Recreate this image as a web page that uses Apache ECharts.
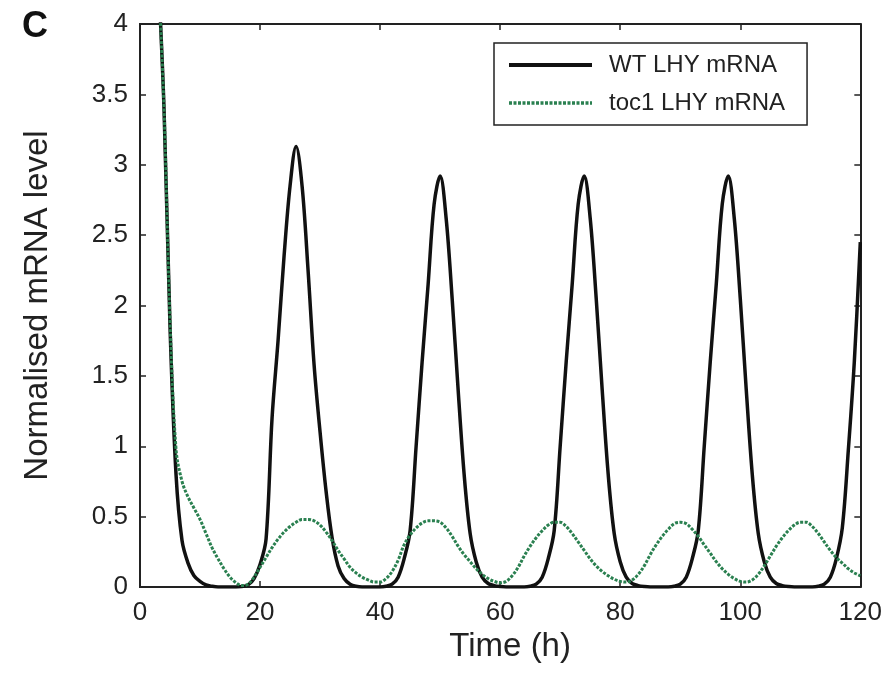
<!DOCTYPE html>
<html>
<head>
<meta charset="utf-8">
<script src="https://cdn.jsdelivr.net/npm/echarts@6/dist/echarts.min.js"></script>
<style>html,body{margin:0;padding:0;background:#fff}#c{width:885px;height:680px}</style>
</head>
<body>
<div id="c"></div>
<script>
var hours = [];
for (var h = 0; h <= 120; h++) hours.push(h);

var wtLHY = [
  8.0, 6.5, 5.3, 4.4, 3.4, 1.85, 0.8, 0.33, 0.17, 0.08,
  0.04, 0.015, 0.005, 0, 0, 0, 0, 0.003, 0.015, 0.06,
  0.16, 0.34, 1.2, 1.75, 2.35, 2.85, 3.13, 2.85, 2.25, 1.58,
  1.1, 0.68, 0.35, 0.15, 0.06, 0.02, 0.005, 0, 0, 0,
  0, 0.005, 0.02, 0.07, 0.2, 0.4, 1.0, 1.6, 2.15, 2.72,
  2.92, 2.62, 2.05, 1.4, 0.8, 0.38, 0.18, 0.07, 0.025, 0.01,
  0.003, 0, 0, 0, 0, 0.005, 0.02, 0.07, 0.2, 0.4,
  1.0, 1.6, 2.15, 2.72, 2.92, 2.62, 2.05, 1.4, 0.8, 0.38,
  0.18, 0.07, 0.025, 0.01, 0.003, 0, 0, 0, 0, 0.005,
  0.02, 0.07, 0.2, 0.4, 1.0, 1.6, 2.15, 2.72, 2.92, 2.62,
  2.05, 1.4, 0.8, 0.38, 0.18, 0.07, 0.025, 0.01, 0.003, 0,
  0, 0, 0, 0.005, 0.02, 0.07, 0.2, 0.42, 0.97, 1.6,
  2.45
];

var toc1LHY = [
  8.0, 6.5, 5.3, 4.4, 3.4, 1.9, 0.98, 0.75, 0.64, 0.56,
  0.48, 0.38, 0.28, 0.2, 0.13, 0.07, 0.03, 0.01, 0.02, 0.07,
  0.14, 0.21, 0.28, 0.34, 0.39, 0.43, 0.46, 0.48, 0.48, 0.47,
  0.44, 0.39, 0.33, 0.26, 0.20, 0.14, 0.10, 0.07, 0.05, 0.035,
  0.035, 0.06, 0.11, 0.19, 0.30, 0.37, 0.42, 0.455, 0.47, 0.47,
  0.46, 0.42, 0.36, 0.29, 0.23, 0.18, 0.13, 0.09, 0.06, 0.04,
  0.03, 0.04, 0.08, 0.14, 0.22, 0.29, 0.35, 0.40, 0.44, 0.46,
  0.46, 0.43, 0.38, 0.32, 0.26, 0.20, 0.15, 0.11, 0.08, 0.055,
  0.04, 0.035, 0.05, 0.09, 0.15, 0.23, 0.30, 0.36, 0.41, 0.45,
  0.46, 0.45, 0.41, 0.36, 0.30, 0.24, 0.18, 0.13, 0.09, 0.06,
  0.04, 0.035, 0.05, 0.09, 0.15, 0.22, 0.29, 0.35, 0.40, 0.44,
  0.46, 0.46, 0.43, 0.38, 0.32, 0.26, 0.21, 0.17, 0.13, 0.10,
  0.08
];

var xTicks = [0, 20, 40, 60, 80, 100, 120];
var yTicks = [0, 0.5, 1, 1.5, 2, 2.5, 3, 3.5, 4];

var FONT = 'Liberation Sans, Arial, Helvetica, sans-serif';

function pairs(vals) { return hours.map(function (h, i) { return [h, vals[i]]; }); }
function tick() { return {show: true, inside: true, length: 6, lineStyle: {color: '#222', width: 1.5}}; }
function line() { return {show: true, onZero: false, lineStyle: {color: '#222', width: 2}}; }
function frameX(pos) {
  return {type: 'value', position: pos, min: 0, max: 120, interval: 20,
    axisLine: line(), axisTick: tick(), splitLine: {show: false}, axisLabel: {show: false}};
}
function frameY(pos) {
  return {type: 'value', position: pos, min: 0, max: 4, interval: 0.5,
    axisLine: line(), axisTick: tick(), splitLine: {show: false}, axisLabel: {show: false}};
}

var chart = echarts.init(document.getElementById('c'), null, {renderer: 'canvas'});
chart.setOption({
  backgroundColor: '#fff',
  animation: false,
  grid: {left: 140, right: 22, top: 24, bottom: 93, show: false},
  graphic: [{type: 'text', left: 22, top: 9, style: {text: 'C', font: 'bold 36px ' + FONT, fill: '#111'}}],
  legend: {
    orient: 'vertical', left: 494, top: 43,
    padding: [10, 22, 10, 13], itemGap: 14, itemWidth: 83, itemHeight: 14,
    borderColor: '#222', borderWidth: 1.5, backgroundColor: '#fff',
    itemStyle: {opacity: 0},
    textStyle: {fontFamily: FONT, fontSize: 24, color: '#222', padding: [0, 0, 0, 12]},
    data: [
      {name: 'WT LHY mRNA', itemStyle: {opacity: 0}, lineStyle: {width: 4, color: '#111'}},
      {name: 'toc1 LHY mRNA', itemStyle: {opacity: 0}, lineStyle: {width: 3.5, color: '#2a8050', type: [3, 1.5]}}
    ]
  },
  xAxis: [{
    type: 'value', position: 'bottom', min: xTicks[0], max: xTicks[xTicks.length - 1], interval: 20,
    name: 'Time (h)', nameLocation: 'middle', nameGap: 41,
    nameTextStyle: {fontFamily: FONT, fontSize: 33, color: '#222', padding: [0, 0, 0, 20]},
    axisLine: line(), axisTick: {show: false}, splitLine: {show: false},
    axisLabel: {fontFamily: FONT, fontSize: 26, color: '#222', margin: 13}
  }, frameX('top'), frameX('bottom')],
  yAxis: [{
    type: 'value', position: 'left', min: yTicks[0], max: yTicks[yTicks.length - 1], interval: 0.5,
    name: 'Normalised mRNA level', nameLocation: 'middle', nameGap: 86,
    nameTextStyle: {fontFamily: FONT, fontSize: 33, color: '#222'},
    axisLine: line(), axisTick: {show: false}, splitLine: {show: false},
    axisLabel: {fontFamily: FONT, fontSize: 26, color: '#222', margin: 12}
  }, frameY('right'), frameY('left')],
  series: [{
    name: 'WT LHY mRNA', type: 'line', xAxisIndex: 0, yAxisIndex: 0, data: pairs(wtLHY), smooth: 0.35, symbol: 'none', clip: true,
    lineStyle: {color: '#111', width: 3.5}, itemStyle: {color: '#111'}, z: 3
  }, {
    name: 'toc1 LHY mRNA', type: 'line', xAxisIndex: 0, yAxisIndex: 0, data: pairs(toc1LHY), smooth: 0.35, symbol: 'none', clip: true,
    lineStyle: {color: '#2a8050', width: 3, type: [3, 1.5]}, itemStyle: {color: '#2a8050'}, z: 4
  }]
});
</script>
</body>
</html>
